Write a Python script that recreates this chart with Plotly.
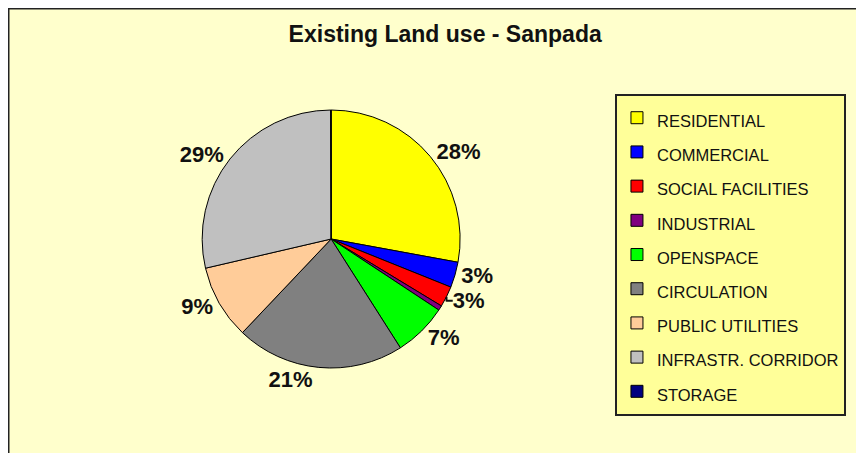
import plotly.graph_objects as go

categories = ["RESIDENTIAL", "COMMERCIAL", "SOCIAL FACILITIES", "INDUSTRIAL", "OPENSPACE",
              "CIRCULATION", "PUBLIC UTILITIES", "INFRASTR. CORRIDOR", "STORAGE"]
shares = [27.9, 3.2, 2.6, 0.6, 6.7, 21.1, 9.3, 28.6, 0.05]
colors = ["#ffff00", "#0000ff", "#ff0000", "#800080", "#00ff00",
          "#808080", "#ffcc99", "#c0c0c0", "#000080"]
show_label = [True, True, True, False, True, True, True, True, False]

# legend entries use a larger base font for row spacing, text itself kept smaller
legend_names = [f"<span style='font-size:16.5px'>{c}</span>" for c in categories]
templates = ["%{percent:.0%}" if s else "" for s in show_label]

fig = go.Figure(
    go.Pie(
        labels=legend_names,
        values=shares,
        sort=False,
        direction="clockwise",
        rotation=0,
        marker=dict(colors=colors, line=dict(color="#000000", width=1)),
        texttemplate=templates,
        textposition="outside",
        outsidetextfont=dict(family="Liberation Sans, Arial", size=22, color="#111111", weight="bold"),
        domain=dict(x=[0.154, 0.594], y=[0.2053, 0.7748]),
        hoverinfo="percent",
    )
)

fig.update_layout(
    width=864,
    height=453,
    margin=dict(l=0, r=0, t=0, b=0),
    paper_bgcolor="#ffffff",
    font=dict(family="Liberation Sans, Arial", color="#111111"),
    title=dict(
        text="<b>Existing Land use - Sanpada</b>",
        x=0.506,
        xanchor="center",
        y=0.942,
        yanchor="middle",
        font=dict(size=23, color="#111111"),
    ),
    legend=dict(
        x=0.7025,
        y=0.811,
        xanchor="left",
        yanchor="top",
        bgcolor="#ffff99",
        bordercolor="#222222",
        borderwidth=2,
        font=dict(size=24, color="#111111"),
    ),
    shapes=[
        dict(
            type="rect",
            xref="paper",
            yref="paper",
            x0=0.5 / 864,
            x1=1.02,
            y0=-0.02,
            y1=1 - 0.5 / 453,
            fillcolor="#ffffcc",
            line=dict(color="#222222", width=2),
            layer="below",
        )
    ],
)

fig.write_html("out.html")
